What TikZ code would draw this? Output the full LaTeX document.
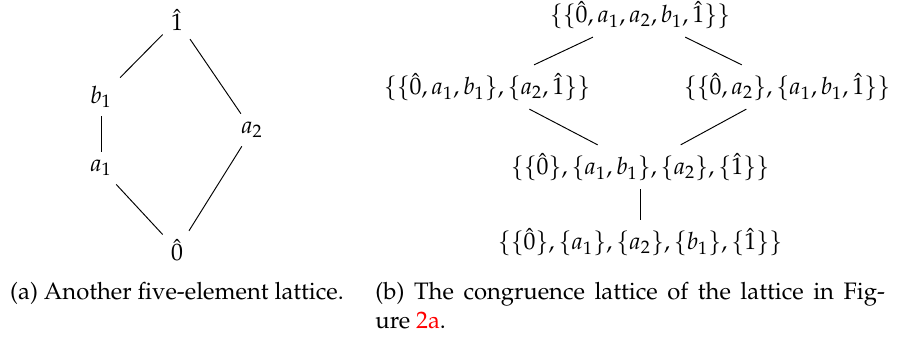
\documentclass[tikz,border=0pt]{standalone}
\usepackage[T1]{fontenc}
\usepackage{mathpazo}
\usepackage{xcolor}
\usepackage{tikz}

\begin{document}
\begin{tikzpicture}[
    x=0.42pt, y=-0.42pt,
    elem/.style={inner sep=3.33pt},
    link/.style={line width=0.4pt},
    capt/.style={inner sep=0pt, align=justify}
]
\useasboundingbox (0,0) rectangle (898,341);

% (a) the five-element lattice
\node[elem] (one) at (177,20) {$\hat{1}$};
\node[elem] (b1) at (101,97) {$b_1$};
\node[elem] (a1) at (101,168) {$a_1$};
\node[elem] (a2) at (252,130) {$a_2$};
\node[elem] (zero) at (177,250) {$\hat{0}$};

\draw[link] (one) -- (b1);
\draw[link] (b1) -- (a1);
\draw[link] (a1) -- (zero);
\draw[link] (one) -- (a2);
\draw[link] (a2) -- (zero);

% (b) its congruence lattice
\node[elem] (all) at (640,15) {$\{\{\hat{0},a_1,a_2,b_1,\hat{1}\}\}$};
\node[elem] (pa) at (487,87) {$\{\{\hat{0},a_1,b_1\},\{a_2,\hat{1}\}\}$};
\node[elem] (pb) at (787,87) {$\{\{\hat{0},a_2\},\{a_1,b_1,\hat{1}\}\}$};
\node[elem] (meet) at (640,167) {$\{\{\hat{0}\},\{a_1,b_1\},\{a_2\},\{\hat{1}\}\}$};
\node[elem] (fine) at (640,242) {$\{\{\hat{0}\},\{a_1\},\{a_2\},\{b_1\},\{\hat{1}\}\}$};

\draw[link] (all) -- (pa);
\draw[link] (all) -- (pb);
\draw[link] (pa) -- (meet);
\draw[link] (pb) -- (meet);
\draw[link] (meet) -- (fine);

% captions
\node[capt, anchor=base] (capa) at (177,300) {(a) Another five-element lattice.};
\node[capt, anchor=north west, text width=214pt] (capb) at (375,282)
    {(b) The congruence lattice of the lattice in Fig-\linebreak ure \textcolor{red}{2a}.};

\end{tikzpicture}
\end{document}
